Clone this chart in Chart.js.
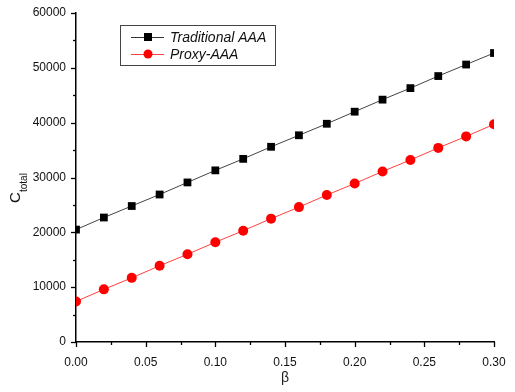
<!DOCTYPE html>
<html lang="en">
<head>
    <meta charset="UTF-8">
    <title>C total vs beta</title>
    <script src="https://cdn.jsdelivr.net/npm/chart.js"></script>
    <style>
        body { margin: 0; background: #fff; }
        #wrap { width: 515px; height: 392px; }
    </style>
</head>
<body>
    <div id="wrap"><canvas id="costChart" width="515" height="392"></canvas></div>

    <script>
        const betaValues = [0.00, 0.02, 0.04, 0.06, 0.08, 0.10, 0.12, 0.14, 0.16, 0.18, 0.20, 0.22, 0.24, 0.26, 0.28, 0.30];
        const traditionalAAA = [20500, 22700, 24800, 26900, 29100, 31300, 33400, 35600, 37700, 39800, 42000, 44200, 46300, 48500, 50600, 52700];
        const proxyAAA = [7400, 9600, 11700, 13900, 16000, 18200, 20300, 22500, 24600, 26800, 28900, 31100, 33200, 35400, 37500, 39700];
        const seriesNames = ['Traditional AAA', 'Proxy-AAA'];

        const toPoints = (ys) => betaValues.map((x, i) => ({ x: x, y: ys[i] }));

        // outward major + minor ticks, legend box and the subscripted y title
        const extras = {
            id: 'extras',
            afterDraw(chart) {
                const c = chart.ctx;
                const xs = chart.scales.x, ys = chart.scales.y;
                const area = chart.chartArea;
                c.save();
                c.strokeStyle = '#000';
                c.lineWidth = 1.3;
                for (let v = 0; v <= 60000; v += 5000) {
                    const y = Math.round(ys.getPixelForValue(v)) + 0.5;
                    const len = v % 10000 === 0 ? 5 : 3;
                    c.beginPath(); c.moveTo(area.left - len, y); c.lineTo(area.left, y); c.stroke();
                }
                for (let i = 0; i <= 12; i++) {
                    const v = i * 0.025;
                    const x = Math.round(xs.getPixelForValue(v)) + 0.5;
                    const len = i % 2 === 0 ? 5 : 3;
                    c.beginPath(); c.moveTo(x, area.bottom); c.lineTo(x, area.bottom + len); c.stroke();
                }

                // legend
                const lx = 120, ly = 25, lw = 155, lh = 40;
                c.strokeStyle = '#444';
                c.lineWidth = 1;
                c.strokeRect(lx + 0.5, ly + 0.5, lw, lh);
                const rows = [
                    { y: ly + 12, color: '#000', line: '#333', style: 'rect' },
                    { y: ly + 29, color: '#ff0000', line: '#ff4040', style: 'circle' }
                ];
                rows.forEach((r, i) => {
                    c.strokeStyle = r.line;
                    c.beginPath(); c.moveTo(lx + 11, r.y + 0.5); c.lineTo(lx + 44, r.y + 0.5); c.stroke();
                    c.fillStyle = r.color;
                    if (r.style === 'rect') {
                        c.fillRect(lx + 24, r.y - 4, 8, 8);
                    } else {
                        c.beginPath(); c.arc(lx + 28, r.y, 4.5, 0, Math.PI * 2); c.fill();
                    }
                    c.fillStyle = '#111';
                    c.font = 'italic 14px "Liberation Sans", Arial, sans-serif';
                    c.textBaseline = 'middle';
                    c.textAlign = 'left';
                    c.fillText(seriesNames[i], lx + 50, r.y + 1);
                });

                // y title C_total
                c.translate(20, 203);
                c.rotate(-Math.PI / 2);
                c.fillStyle = '#111';
                c.textAlign = 'left';
                c.textBaseline = 'alphabetic';
                c.font = '15px "Liberation Sans", Arial, sans-serif';
                c.fillText('C', 0, 0);
                c.font = '10px "Liberation Sans", Arial, sans-serif';
                c.fillText('total', 11, 7);
                c.restore();
            }
        };

        const tickFont = { family: '"Liberation Sans", Arial, sans-serif', size: 12 };

        const ctx = document.getElementById('costChart').getContext('2d');
        const costChart = new Chart(ctx, {
            type: 'scatter',
            data: {
                datasets: [
                    {
                        label: seriesNames[0],
                        data: toPoints(traditionalAAA),
                        showLine: true,
                        clip: 0,
                        borderColor: '#444',
                        borderWidth: 1,
                        backgroundColor: '#000',
                        pointStyle: 'rect',
                        pointRadius: 5.5,
                        pointBorderWidth: 0,
                        pointBackgroundColor: '#000'
                    },
                    {
                        label: seriesNames[1],
                        data: toPoints(proxyAAA),
                        showLine: true,
                        clip: 0,
                        borderColor: '#ff4040',
                        borderWidth: 1,
                        backgroundColor: '#ff0000',
                        pointStyle: 'circle',
                        pointRadius: 5,
                        pointBorderWidth: 0,
                        pointBackgroundColor: '#ff0000'
                    }
                ]
            },
            options: {
                responsive: false,
                animation: false,
                layout: { padding: { top: 13, right: 21, left: 0, bottom: 0 } },
                plugins: {
                    legend: { display: false },
                    tooltip: { enabled: false }
                },
                scales: {
                    x: {
                        type: 'linear',
                        min: 0,
                        max: 0.3,
                        grid: { display: false, drawTicks: false },
                        border: { display: true, color: '#000', width: 1.5 },
                        ticks: {
                            stepSize: 0.05,
                            color: '#111',
                            font: tickFont,
                            padding: 13,
                            callback: (v) => v.toFixed(2)
                        },
                        title: {
                            display: true,
                            text: 'β',
                            color: '#222',
                            font: { family: '"Liberation Sans", Arial, sans-serif', size: 14 },
                            padding: { top: 8, bottom: 5 }
                        },
                        afterFit: (s) => { s.height = 50; s.paddingLeft = 0; s.paddingRight = 0; }
                    },
                    y: {
                        min: 0,
                        max: 60000,
                        grid: { display: false, drawTicks: false },
                        border: { display: true, color: '#000', width: 1.5 },
                        ticks: {
                            stepSize: 10000,
                            color: '#111',
                            font: tickFont,
                            padding: 10,
                            callback: (v) => String(v)
                        },
                        afterFit: (s) => { s.width = 76; s.paddingTop = 0; s.paddingBottom = 0; }
                    }
                }
            },
            plugins: [extras]
        });
    </script>
</body>
</html>
